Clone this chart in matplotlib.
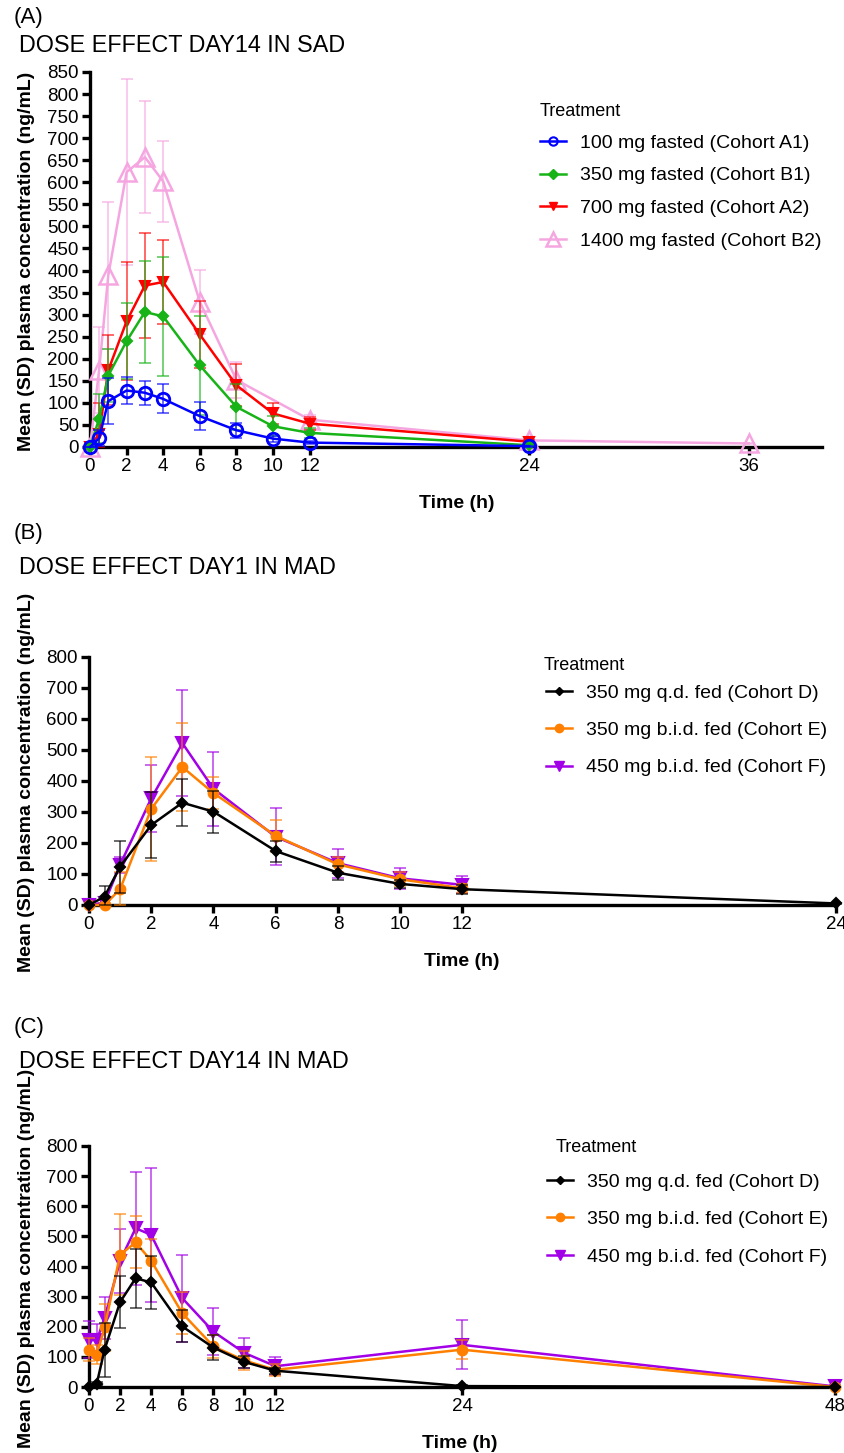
import numpy as np
import matplotlib
matplotlib.use("Agg")
import matplotlib.pyplot as plt
from matplotlib.lines import Line2D

plt.rcParams['font.family'] = ['Liberation Sans', 'DejaVu Sans']

# ---------------- Panel A data (SAD, Day 14) ----------------
t_A = [0, 0.5, 1, 2, 3, 4, 6, 8, 10, 12, 24]
blue_A = [0, 20, 104, 128, 123, 109, 70, 38, 19, 10, 2]
blue_A_sd = [0, 18, 52, 31, 27, 33, 31, 17, 7, 4, 1]
green_A = [0, 64, 162, 240, 306, 296, 185, 91, 47, 32, 4]
green_A_sd = [0, 55, 61, 87, 115, 135, 113, 52, 23, 12, 2]
red_A = [0, 30, 174, 285, 366, 374, 255, 140, 76, 53, 12]
red_A_sd = [0, 70, 79, 134, 119, 96, 75, 47, 24, 15, 4]
t_A_pink = [0, 0.5, 1, 2, 3, 4, 6, 8, 12, 24, 36]
pink_A = [0, 175, 389, 623, 657, 602, 329, 152, 62, 15, 8]
pink_A_sd = [0, 97, 166, 210, 127, 92, 73, 40, 10, 3, 2]
labels_A = ["100 mg fasted (Cohort A1)", "350 mg fasted (Cohort B1)",
            "700 mg fasted (Cohort A2)", "1400 mg fasted (Cohort B2)"]
xticks_A = [0, 2, 4, 6, 8, 10, 12, 24, 36]
yticks_A = list(range(0, 851, 50))

# ---------------- Panel B data (MAD, Day 1) ----------------
t_B = [0, 0.5, 1, 2, 3, 4, 6, 8, 10, 12, 24]
black_B = [0, 27, 124, 258, 330, 301, 174, 104, 68, 51, 5]
black_B_sd = [0, 35, 84, 105, 76, 68, 34, 22, 13, 14, 2]
t_B2 = [0, 0.5, 1, 2, 3, 4, 6, 8, 10, 12]
orange_B = [0, 0, 51, 310, 445, 361, 223, 131, 83, 54]
orange_B_sd = [0, 5, 55, 167, 142, 51, 51, 25, 22, 15]
purple_B = [0, 8, 130, 344, 522, 375, 220, 135, 86, 65]
purple_B_sd = [0, 10, 26, 108, 172, 120, 92, 47, 34, 27]
labels_MAD = ["350 mg q.d. fed (Cohort D)", "350 mg b.i.d. fed (Cohort E)",
              "450 mg b.i.d. fed (Cohort F)"]
xticks_B = [0, 2, 4, 6, 8, 10, 12, 24]
yticks_BC = list(range(0, 801, 100))

# ---------------- Panel C data (MAD, Day 14) ----------------
t_C = [0, 0.5, 1, 2, 3, 4, 6, 8, 10, 12, 24, 48]
black_C = [0, 11, 124, 282, 361, 347, 201, 131, 83, 54, 3, 0]
black_C_sd = [0, 5, 90, 85, 98, 89, 53, 40, 20, 10, 2, 0]
orange_C = [124, 107, 198, 439, 480, 419, 245, 135, 88, 57, 124, 0]
orange_C_sd = [39, 31, 78, 134, 86, 71, 69, 38, 30, 20, 31, 0]
purple_C = [157, 155, 229, 419, 527, 505, 295, 184, 113, 69, 140, 2]
purple_C_sd = [61, 55, 71, 106, 188, 223, 144, 78, 50, 30, 81, 3]
xticks_C = [0, 2, 4, 6, 8, 10, 12, 24, 48]

BLUE = '#0000FF'
GREEN = '#17B317'
RED = '#FF0000'
PINK = '#F5A6E0'
BLACK = '#000000'
ORANGE = '#FF8000'
PURPLE = '#A200E6'

W, H = 845, 1453
fig = plt.figure(figsize=(W / 100, H / 100), dpi=100)


def ax_at(x0, y0, x1, y1):
    return fig.add_axes([x0 / W, 1 - y1 / H, (x1 - x0) / W, (y1 - y0) / H])


def series(ax, t, y, sd, color, marker, ms, mfc, mew=1.5, lw=1.8, z=2):
    t = np.asarray(t, float)
    y = np.asarray(y, float)
    sd = np.asarray(sd, float)
    lower = np.minimum(sd, y)
    eb = ax.errorbar(t, y, yerr=[lower, sd], fmt='none', ecolor=color,
                     elinewidth=1.1, capsize=4.5, capthick=1.1, alpha=0.75,
                     zorder=z)
    for c in eb.lines[1] + eb.lines[2]:
        c.set_clip_on(False)
    ax.plot(t, y, color=color, lw=lw, marker=marker, ms=ms, mfc=mfc,
            mec=color, mew=mew, clip_on=False, zorder=z + 0.5)


def style(ax, xlim, ylim, xticks, yticks):
    ax.set_xlim(*xlim)
    ax.set_ylim(*ylim)
    ax.set_xticks(xticks)
    ax.set_yticks(yticks)
    for s in ['top', 'right']:
        ax.spines[s].set_visible(False)
    for s in ['left', 'bottom']:
        ax.spines[s].set_linewidth(2.4)
        ax.spines[s].set_zorder(1)
    ax.tick_params(axis='both', direction='out', length=6, width=2.4,
                   labelsize=13.5, pad=2)
    ax.patch.set_alpha(0)


def ftext(x, y, s, **kw):
    fig.text(x / W, 1 - y / H, s, **kw)


def legend_at(handles, labels, x, y_top, spacing):
    fig.legend(handles, labels, loc='upper left',
               bbox_to_anchor=(x / W, 1 - y_top / H), frameon=False,
               fontsize=14, borderpad=0, borderaxespad=0,
               handlelength=1.35, handletextpad=0.72, labelspacing=spacing)


# ---------------- Panel A ----------------
axA = ax_at(90, 72, 822, 447)
series(axA, t_A_pink, pink_A, pink_A_sd, PINK, '^', 13, 'none', mew=1.8, z=2)
series(axA, t_A, red_A, red_A_sd, RED, 'v', 7.5, RED, z=3)
series(axA, t_A, green_A, green_A_sd, GREEN, 'D', 5.5, GREEN, z=4)
series(axA, t_A, blue_A, blue_A_sd, BLUE, 'o', 9, 'none', mew=2, z=5)
style(axA, (0, 40), (0, 850), xticks_A, yticks_A)

hA = [Line2D([], [], color=BLUE, marker='o', ms=6, mfc='none', mew=1.5, lw=1.8),
      Line2D([], [], color=GREEN, marker='D', ms=5, mfc=GREEN, lw=1.8),
      Line2D([], [], color=RED, marker='v', ms=6, mfc=RED, lw=1.8),
      Line2D([], [], color=PINK, marker='^', ms=10, mfc='none', mew=1.8, lw=1.8)]
ftext(540, 112, "Treatment", fontsize=13, va='center', ha='left')
legend_at(hA, labels_A, 540, 134, 0.78)

# ---------------- Panel B ----------------
axB = ax_at(89, 657, 836, 905)
series(axB, t_B2, purple_B, purple_B_sd, PURPLE, 'v', 8, PURPLE, z=2)
series(axB, t_B2, orange_B, orange_B_sd, ORANGE, 'o', 7, ORANGE, z=3)
series(axB, t_B, black_B, black_B_sd, BLACK, 'D', 5, BLACK, z=4)
style(axB, (0, 24), (0, 800), xticks_B, yticks_BC)

hM = [Line2D([], [], color=BLACK, marker='D', ms=4, mfc=BLACK, lw=1.8),
      Line2D([], [], color=ORANGE, marker='o', ms=6, mfc=ORANGE, lw=1.8),
      Line2D([], [], color=PURPLE, marker='v', ms=7, mfc=PURPLE, lw=1.8)]
ftext(544, 666, "Treatment", fontsize=13, va='center', ha='left')
legend_at(hM, labels_MAD, 546, 684, 1.02)

# ---------------- Panel C ----------------
axC = ax_at(89, 1146, 835, 1387)
series(axC, t_C, purple_C, purple_C_sd, PURPLE, 'v', 8, PURPLE, z=2)
series(axC, t_C, orange_C, orange_C_sd, ORANGE, 'o', 7, ORANGE, z=3)
series(axC, t_C, black_C, black_C_sd, BLACK, 'D', 5, BLACK, z=4)
style(axC, (0, 48), (0, 800), xticks_C, yticks_BC)

ftext(556, 1147, "Treatment", fontsize=13, va='center', ha='left')
legend_at(hM, labels_MAD, 547, 1173, 1.02)

# ---------------- Texts ----------------
ftext(14, 18, "(A)", fontsize=16, va='center', ha='left')
ftext(19, 45, "DOSE EFFECT DAY14 IN SAD", fontsize=16.8, va='center', ha='left')
ftext(14, 533, "(B)", fontsize=16, va='center', ha='left')
ftext(19, 568, "DOSE EFFECT DAY1 IN MAD", fontsize=16.8, va='center', ha='left')
ftext(14, 1028, "(C)", fontsize=16, va='center', ha='left')
ftext(19, 1062, "DOSE EFFECT DAY14 IN MAD", fontsize=16.8, va='center', ha='left')

ylab = "Mean (SD) plasma concentration (ng/mL)"
ftext(27, 261, ylab, fontsize=14, fontweight='bold', rotation=90,
      va='center', ha='center')
ftext(27, 782, ylab, fontsize=14, fontweight='bold', rotation=90,
      va='center', ha='center')
ftext(27, 1258, ylab, fontsize=14, fontweight='bold', rotation=90,
      va='center', ha='center')

ftext(457, 503, "Time (h)", fontsize=14, fontweight='bold', va='center', ha='center')
ftext(462, 962, "Time (h)", fontsize=14, fontweight='bold', va='center', ha='center')
ftext(460, 1443, "Time (h)", fontsize=14, fontweight='bold', va='center', ha='center')

fig.savefig("out.png", dpi=100)
